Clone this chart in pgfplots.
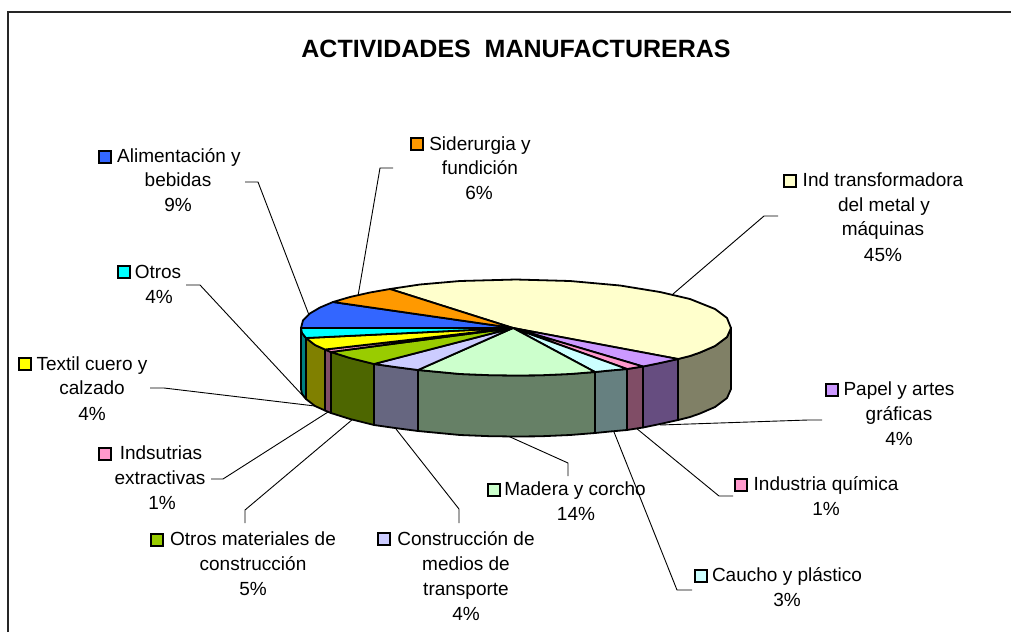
\documentclass[border=0pt]{standalone}
\usepackage{pgfplots}
\pgfplotsset{compat=1.18}
\usepackage{fontspec}
\setmainfont{Liberation Sans}
\definecolor{tInd}{HTML}{FFFFCC}\definecolor{sInd}{HTML}{808066}
\definecolor{tPap}{HTML}{CC99FF}\definecolor{sPap}{HTML}{664D80}
\definecolor{tQui}{HTML}{FF99CC}\definecolor{sQui}{HTML}{804D66}
\definecolor{tCau}{HTML}{CCFFFF}\definecolor{sCau}{HTML}{668080}
\definecolor{tMad}{HTML}{CCFFCC}\definecolor{sMad}{HTML}{668066}
\definecolor{tCon}{HTML}{CCCCFF}\definecolor{sCon}{HTML}{666680}
\definecolor{tMat}{HTML}{99CC00}\definecolor{sMat}{HTML}{4D6600}
\definecolor{tTex}{HTML}{FFFF00}\definecolor{sTex}{HTML}{808000}
\definecolor{tOtr}{HTML}{00FFFF}\definecolor{sOtr}{HTML}{008080}
\definecolor{tAli}{HTML}{3366FF}
\definecolor{tSid}{HTML}{FF9900}
\newcommand\lab[3]{\node[anchor=base,inner sep=0pt,font=\fontsize{19}{22}\selectfont] at (axis cs:#1,#2){#3};}
\newcommand\leader[1]{\addplot[black,line width=0.9pt] coordinates {#1};}
\newcommand\face[2]{\addplot[draw=black,line width=1.8pt,line join=round,fill=#1] coordinates {#2} --cycle;}
\newcommand\key[2]{\addplot[draw=black,line width=1.4pt,fill=#1] coordinates {#2} --cycle;}
\begin{document}
\begin{tikzpicture}
\begin{axis}[scale only axis,width=1011pt,height=632pt,xmin=0,xmax=1011,ymin=0,ymax=632,y dir=reverse,axis lines=none,clip=true]
% page background, which also fixes the picture's extent
\addplot[draw=none,fill=white] coordinates {(0,0)(1011,0)(1011,632)(0,632)} --cycle;
% frame
\addplot[color=black!85,line width=1.6pt] coordinates {(8,632)(8,12)(1011,12)};
% leaders
\leader{(245,182)(258,182)(309,315)}
\leader{(393,168)(380,168)(358,296)}
\leader{(778,216)(764,216)(673,294)}
\leader{(186,285)(200,285)(305,398)}
\leader{(150,388)(164,388)(315,406)}
\leader{(211,479)(223,479)(328,412)}
\leader{(245,523)(245,510)(353,419)}
\leader{(459,523)(459,509)(396,429)}
\leader{(568,476)(568,463)(508,436)}
\leader{(733,496)(719,496)(636,428)}
\leader{(692,590)(677,590)(614,432)}
\leader{(822,420)(808,420)(660,425)}
% side faces
\face{sInd}{(678,359)(690,356)(700,352.5)(715,346)(727,337)(731,328)(731,389)(727,398)(715,407)(700,413.5)(690,417)(678,420)}
\face{sPap}{(643,366.5)(660,363)(678,359)(678,420)(660,424)(643,427.5)}
\face{sQui}{(627,369)(643,366.5)(643,427.5)(627,430)}
\face{sCau}{(595,372)(610,370.5)(627,369)(627,430)(610,431.5)(595,433)}
\face{sMad}{(418,370)(460,374)(490,375.2)(516,375.5)(540,375.3)(570,374)(595,372)(595,433)(570,435)(540,436.3)(516,436.5)(490,436.2)(460,435)(418,431)}
\face{sCon}{(374,364)(395,367)(418,370)(418,431)(395,428)(374,425)}
\face{sMat}{(331,352)(350,358)(374,364)(374,425)(350,419)(331,413)}
\face{sQui}{(325,349.5)(331,352)(331,413)(325,410.5)}
\face{sTex}{(306,338)(315,345)(325,349.5)(325,410.5)(315,406)(306,399)}
\face{sOtr}{(301,328)(302,333)(306,338)(306,399)(302,394)(301,389)}
% top faces
\face{tInd}{(513,328)(390,289)(420,284.5)(460,281)(516,279.5)(570,281)(620,285.5)(660,292)(690,299)(715,309)(727,318)(731,328)(727,337)(715,346)(700,352.5)(690,356)(678,359)}
\face{tPap}{(513,328)(678,359)(660,363)(643,366.5)}
\face{tQui}{(513,328)(643,366.5)(627,369)}
\face{tCau}{(513,328)(627,369)(610,370.5)(595,372)}
\face{tMad}{(513,328)(595,372)(570,374)(540,375.3)(516,375.5)(490,375.2)(460,374)(418,370)}
\face{tCon}{(513,328)(418,370)(395,367)(374,364)}
\face{tMat}{(513,328)(374,364)(350,358)(331,352)}
\face{tQui}{(513,328)(331,352)(325,349.5)}
\face{tTex}{(513,328)(325,349.5)(315,345)(306,338)}
\face{tOtr}{(513,328)(306,338)(302,333)(301,328)}
\face{tAli}{(513,328)(301,328)(303,320.3)(310,313.4)(320,307.5)(333,302)}
\face{tSid}{(513,328)(333,302)(350,297)(370,292.5)(390,289)}
% legend keys
\key{tInd}{(784,175)(796,175)(796,187)(784,187)}
\key{tSid}{(411,138)(423,138)(423,150)(411,150)}
\key{tAli}{(99,151)(111,151)(111,163)(99,163)}
\key{tOtr}{(118,266)(130,266)(130,278)(118,278)}
\key{tTex}{(19,358)(31,358)(31,370)(19,370)}
\key{tQui}{(99,448)(111,448)(111,460)(99,460)}
\key{tMat}{(151,534)(163,534)(163,546)(151,546)}
\key{tCon}{(378,533)(390,533)(390,545)(378,545)}
\key{tMad}{(488,484)(500,484)(500,496)(488,496)}
\key{tCau}{(695,570)(707,570)(707,582)(695,582)}
\key{tQui}{(735,479)(747,479)(747,491)(735,491)}
\key{tPap}{(826,384)(838,384)(838,396)(826,396)}
% title
\node[anchor=base,inner sep=0pt,font=\fontsize{25}{30}\selectfont\bfseries] at (axis cs:516,57){ACTIVIDADES\ \ MANUFACTURERAS};
% labels
\lab{480}{150}{Siderurgia y}\lab{480}{174}{fundición}\lab{479}{199}{6\%}
\lab{883}{186}{Ind transformadora}\lab{884}{211}{del metal y}\lab{883}{235}{máquinas}\lab{883}{261}{45\%}
\lab{179}{162}{Alimentación y}\lab{178}{186}{bebidas}\lab{178}{211}{9\%}
\lab{158}{278}{Otros}\lab{159}{303}{4\%}
\lab{92}{370}{Textil cuero y}\lab{92}{394}{calzado}\lab{92}{420}{4\%}
\lab{161}{459}{Indsutrias}\lab{160}{484}{extractivas}\lab{162}{509}{1\%}
\lab{253}{545}{Otros materiales de}\lab{253}{570}{construcción}\lab{253}{595}{5\%}
\lab{466}{545}{Construcción de}\lab{466}{570}{medios de}\lab{466}{595}{transporte}\lab{466}{620}{4\%}
\lab{575}{495}{Madera y corcho}\lab{576}{520}{14\%}
\lab{787}{581}{Caucho y plástico}\lab{787}{606}{3\%}
\lab{826}{490}{Industria química}\lab{826}{515}{1\%}
\lab{899}{395}{Papel y artes}\lab{899}{420}{gráficas}\lab{899}{445}{4\%}
\end{axis}
\end{tikzpicture}
\end{document}
